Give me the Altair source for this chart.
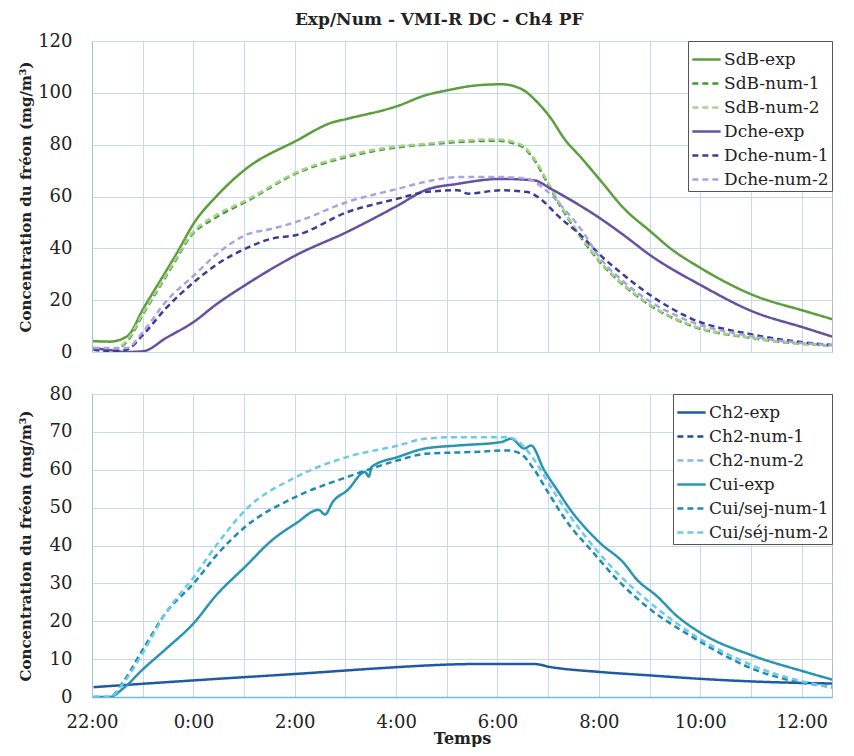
import altair as alt
import pandas as pd

# ---------------- data (hours since 22:00, concentration mg/m3) ----------------
top_series = ["SdB-exp", "SdB-num-1", "SdB-num-2", "Dche-exp", "Dche-num-1", "Dche-num-2"]
top_colors = ["#5c9e3c", "#3f9a2c", "#a9d18e", "#6650a0", "#3d3b95", "#a9a4e0"]
bot_series = ["Ch2-exp", "Ch2-num-1", "Ch2-num-2", "Cui-exp", "Cui/sej-num-1", "Cui/séj-num-2"]
bot_colors = ["#1f5aa6", "#1c4f9c", "#8fb4e3", "#2a95b3", "#1f8bb0", "#6dcbea"]
dash_patterns = [[1, 0], [6, 4], [6, 4], [1, 0], [6, 4], [6, 4]]

sdb_exp_h = [0.02, 0.35, 0.69, 1.02, 1.33, 1.67, 2.02, 2.45, 3.04, 4.04, 4.73, 5.04, 6.04, 6.57, 7.02, 7.55, 8.08, 8.47, 8.78, 9.06, 9.31, 9.65, 10.04, 10.49, 11.02, 11.41, 12.0, 13.04, 14.08, 14.9]
sdb_exp_v = [4.2, 4.0, 6.0, 17, 27, 38, 50, 60, 70.7, 81.6, 88.5, 90, 95, 99, 101, 102.8, 103.3, 101.5, 96.5, 90, 82.5, 75, 66, 55.5, 46.5, 40, 32.5, 22, 15.7, 11]

sdb_num2_h = [0.02, 0.35, 0.69, 1.02, 1.33, 1.67, 1.9, 2.45, 3.04, 4.04, 5.04, 6.04, 6.57, 7.2, 8.0, 8.46, 8.73, 8.99, 9.25, 9.58, 10.03, 10.49, 11.01, 11.8, 13.04, 14.9]
sdb_num2_v = [1.5, 0.6, 4.5, 15.5, 25.5, 36.5, 44, 52.8, 58.5, 69.4, 75.8, 79.4, 80.3, 81.5, 82, 80, 74.5, 65.6, 56.6, 46.4, 34.8, 26, 18.2, 10.5, 5.4, 2.2]
sdb_num1_h = [0.02, 0.35, 0.69, 1.02, 1.33, 1.67, 1.9, 2.45, 3.04, 4.04, 5.04, 6.04, 6.57, 7.2, 8.0, 8.46, 8.73, 8.99, 9.25, 9.58, 10.03, 10.49, 11.01, 11.8, 13.04, 14.9]
sdb_num1_v = [1.5, 0.4, 4.0, 15.0, 25.0, 36.0, 43.5, 52.0, 58.0, 69.0, 75.3, 79.0, 80.0, 81.0, 81.5, 79.5, 74.0, 65.0, 56.0, 46.0, 34.5, 25.7, 18.0, 10.3, 5.3, 2.1]

dche_exp_h = [0.03, 0.29, 0.68, 1.01, 1.46, 2.02, 2.44, 3.03, 4.03, 5.04, 6.04, 6.57, 7.22, 8.07, 8.73, 9.05, 9.51, 10.03, 10.49, 11.01, 12.0, 13.04, 14.08, 14.9]
dche_exp_v = [1.5, 0.9, 0.0, 0.3, 5.4, 11.8, 18.2, 25.9, 37.4, 46.4, 56.6, 62.4, 64.9, 66.8, 66.2, 63.0, 57.9, 51.5, 45.1, 37.4, 25.9, 15.6, 9.2, 4.1]

dche_num1_h = [0.03, 0.35, 0.68, 1.01, 1.46, 2.02, 2.44, 3.03, 3.56, 4.03, 5.04, 6.04, 6.57, 7.22, 7.42, 8.07, 8.59, 8.92, 9.18, 9.64, 10.03, 10.49, 11.01, 11.8, 13.04, 14.9]
dche_num1_v = [0.9, 0.3, 0.9, 6.7, 16.9, 27.1, 33.5, 39.9, 43.8, 45.1, 54.0, 59.2, 61.7, 62.4, 61.1, 62.4, 61.7, 57.9, 52.8, 45.1, 37.4, 29.7, 22.0, 13.1, 6.7, 2.2]

dche_num2_h = [0.03, 0.68, 1.01, 1.46, 2.02, 2.44, 3.03, 3.56, 4.03, 5.04, 6.04, 6.57, 7.22, 8.07, 8.59, 8.92, 9.31, 9.64, 10.03, 10.49, 11.01, 11.8, 13.04, 14.9]
dche_num2_v = [1.5, 1.5, 7.9, 19.5, 29.7, 37.4, 45.1, 47.6, 50.2, 57.9, 63.0, 65.6, 67.5, 67.5, 66.8, 63.0, 55.3, 47.6, 36.1, 27.1, 19.5, 11.8, 6.0, 2.2]

ch2_exp_h = [0.03, 2.02, 4.03, 6.04, 6.57, 7.55, 8.73, 9.05, 10.03, 11.01, 12.0, 13.04, 14.9]
ch2_exp_v = [2.6, 4.4, 6.1, 7.9, 8.3, 8.7, 8.7, 7.9, 6.6, 5.7, 4.8, 4.1, 3.5]

cui_exp_h = [0.03, 0.35, 0.61, 1.01, 1.46, 2.02, 2.44, 3.03, 3.56, 4.03, 4.47, 4.6, 4.75, 5.04, 5.39, 5.46, 5.52, 6.04, 6.57, 7.22, 8.07, 8.27, 8.53, 8.66, 8.92, 9.18, 9.44, 9.71, 10.03, 10.49, 10.75, 11.14, 11.54, 12.0, 13.04, 14.08, 14.9]
cui_exp_v = [0.0, 0.0, 2.2, 7.4, 12.7, 19.7, 26.7, 34.5, 41.5, 45.9, 49.4, 48.2, 51.5, 54.6, 59.4, 58.2, 60.8, 63.4, 65.6, 66.4, 67.3, 68.2, 65.6, 66.4, 59.9, 54.6, 49.4, 45.0, 40.6, 35.4, 31.0, 26.7, 21.4, 17.0, 10.9, 6.6, 3.5]

cui_num1_h = [0.03, 0.35, 0.61, 1.01, 1.46, 2.02, 2.44, 3.03, 4.03, 5.04, 6.04, 6.57, 7.55, 8.2, 8.46, 8.73, 9.05, 9.44, 9.84, 10.36, 11.01, 11.8, 13.04, 14.9]
cui_num1_v = [0.0, 0.0, 3.9, 12.7, 22.3, 30.2, 37.2, 45.0, 52.9, 58.1, 62.5, 64.2, 64.7, 65.1, 64.2, 59.9, 52.9, 45.0, 38.9, 31.0, 23.2, 16.2, 7.4, 2.2]

cui_num2_h = [0.03, 0.35, 0.61, 1.01, 1.46, 2.02, 2.44, 3.03, 4.03, 5.04, 6.04, 6.57, 7.22, 8.2, 8.46, 8.73, 9.05, 9.44, 9.84, 10.36, 11.01, 11.8, 13.04, 14.9]
cui_num2_v = [0.0, 0.0, 3.5, 11.8, 22.3, 31.9, 39.8, 49.4, 58.1, 63.4, 66.4, 68.2, 68.6, 68.6, 66.9, 62.5, 55.5, 47.6, 40.6, 32.8, 24.9, 17.0, 8.3, 1.7]

x_tick_hours = list(range(0, 15))
top_y_ticks = [0, 20, 40, 60, 80, 100, 120]
bot_y_ticks = [0, 10, 20, 30, 40, 50, 60, 70, 80]

# ---------------- build tables ----------------
def frame(pairs):
    rows = []
    for name, hs, vs in pairs:
        for i, (h, v) in enumerate(zip(hs, vs)):
            rows.append({"series": name, "h": h, "v": v, "i": i})
    return pd.DataFrame(rows)

df_top = frame([
    ("SdB-exp", sdb_exp_h, sdb_exp_v),
    ("SdB-num-1", sdb_num1_h, sdb_num1_v),
    ("SdB-num-2", sdb_num2_h, sdb_num2_v),
    ("Dche-exp", dche_exp_h, dche_exp_v),
    ("Dche-num-1", dche_num1_h, dche_num1_v),
    ("Dche-num-2", dche_num2_h, dche_num2_v),
])
df_bot = frame([
    ("Ch2-exp", ch2_exp_h, ch2_exp_v),
    ("Cui-exp", cui_exp_h, cui_exp_v),
    ("Cui/sej-num-1", cui_num1_h, cui_num1_v),
    ("Cui/séj-num-2", cui_num2_h, cui_num2_v),
])

FONT = "DejaVu Serif"
YTITLE = "Concentration du fréon (mg/m³)"
X_END = 14.6

def legend():
    return alt.Legend(title=None, orient="top-right", offset=0, symbolType="stroke",
                      symbolSize=800, symbolStrokeWidth=2.5, labelFont=FONT, labelFontSize=17,
                      labelColor="#222", rowPadding=-3, padding=3, labelOffset=2,
                      strokeColor="#555", fillColor="white", labelLimit=250)

def panel(df, names, colors, ydom, yticks, bottom):
    if bottom:
        xaxis = alt.Axis(values=x_tick_hours, title="Temps", ticks=False, domain=True,
                         domainColor="#7ab6de", domainWidth=1.5, labelFlush=False,
                         labelOverlap=False, labelPadding=16, titlePadding=-1,
                         labelExpr="datum.value % 2 == 0 ? ((22 + datum.value) % 24) + ':00' : ''")
    else:
        xaxis = alt.Axis(values=x_tick_hours, title=None, labels=False, ticks=False, domain=False)
    return alt.Chart(df).mark_line(strokeWidth=2.5, interpolate="monotone", clip=True).encode(
        x=alt.X("h:Q", scale=alt.Scale(domain=[0, X_END], nice=False, zero=False), axis=xaxis),
        y=alt.Y("v:Q", scale=alt.Scale(domain=ydom, nice=False),
                axis=alt.Axis(values=yticks, title=YTITLE)),
        color=alt.Color("series:N", scale=alt.Scale(domain=names, range=colors), legend=legend()),
        strokeDash=alt.StrokeDash("series:N", scale=alt.Scale(domain=names, range=dash_patterns),
                                  legend=legend()),
        order="i:Q",
    ).properties(width=740, height=303 if bottom else 311)

top = panel(df_top, top_series, top_colors, [0, 120], top_y_ticks, False)
bot = panel(df_bot, bot_series, bot_colors, [0, 80], bot_y_ticks, True)

chart = alt.vconcat(top, bot, spacing=22).resolve_scale(
    color="independent", strokeDash="independent", y="independent", x="independent"
).resolve_legend(
    color="independent", strokeDash="independent"
).properties(
    title=alt.TitleParams("Exp/Num - VMI-R DC - Ch4 PF", font=FONT, fontSize=17,
                          fontWeight="bold", color="#222", anchor="middle", offset=3, dx=14),
    padding={"left": 9, "top": 2, "right": 0, "bottom": 0},
    background="white",
).configure_axis(
    labelFont=FONT, labelFontSize=18, labelColor="#222",
    titleFont=FONT, titleFontSize=15, titleFontWeight="bold", titleColor="#222",
    gridColor="#c3dbea", gridWidth=1, domainColor="#9cc6e0",
).configure_axisY(
    ticks=False, labelPadding=20, titlePadding=5, domain=True, minExtent=54, maxExtent=54,
).configure_axisX(
    titleFontSize=16,
).configure_view(
    stroke="#6d7f8c", strokeDash=[1, 1], strokeWidth=1,
)

chart.save("out.html", embed_options={"renderer": "svg", "actions": False})
